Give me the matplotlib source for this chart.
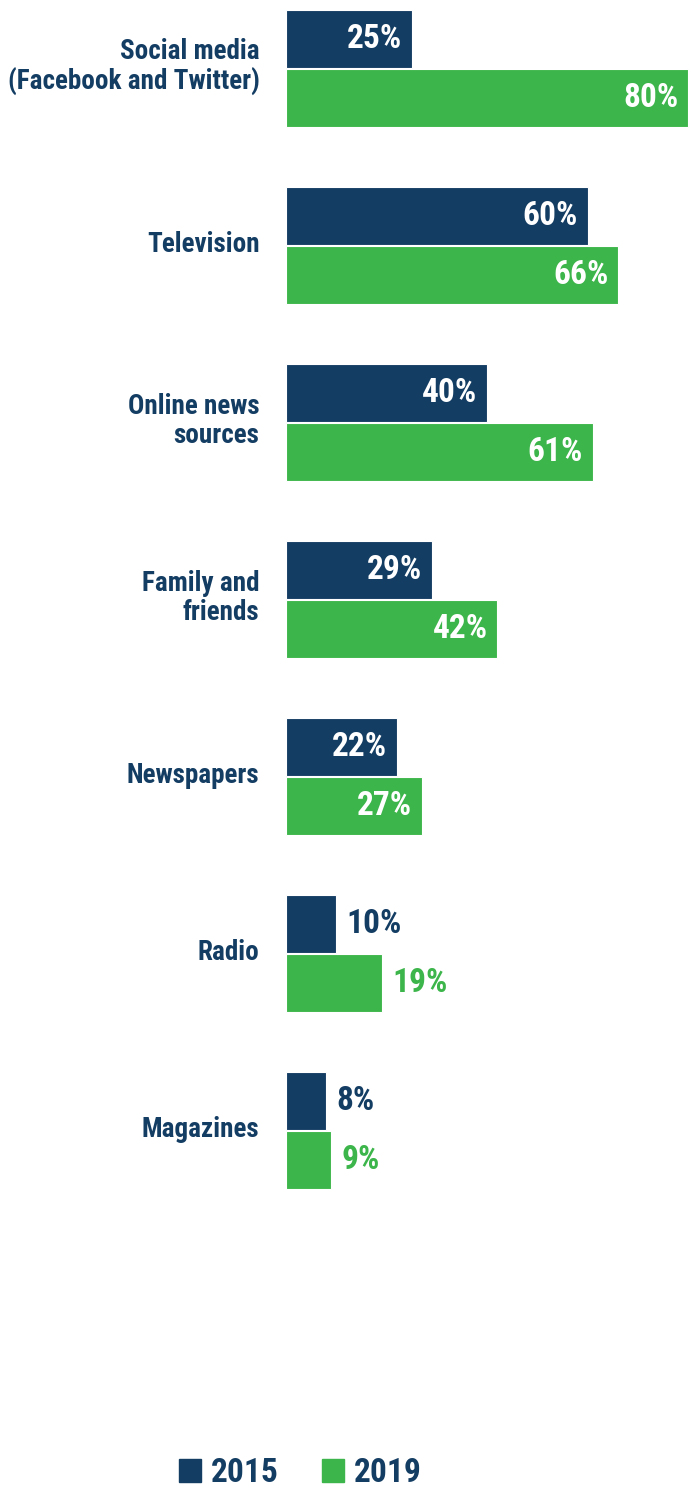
#!/usr/bin/env python3

import numpy as np
from matplotlib import pyplot as plt
from matplotlib.patches import Patch

categories = ['Social media\n(Facebook and Twitter)', 'Television',
              'Online news\nsources', 'Family and\nfriends', 'Newspapers',
              'Radio', 'Magazines']
vals_2015 = [25, 60, 40, 29, 22, 10, 8]
vals_2019 = [80, 66, 61, 42, 27, 19, 9]
series_names = ['2015', '2019']

NAVY = '#143d63'
GREEN = '#3cb54a'
FONT = ['Roboto Condensed', 'Pragati Narrow', 'DejaVu Sans']

W, H = 691, 1490
fig = plt.figure(figsize=(W / 100, H / 100), dpi=100)
ax = fig.add_axes([286 / W, 0, 1 - 286 / W, 1])

step = 177.0
y = np.arange(len(categories))
bh = 58 / step
off = 29.5 / step

for vals, col, d in [(vals_2015, NAVY, -off), (vals_2019, GREEN, off)]:
    bars = ax.barh(y + d, vals, height=bh, color=col, edgecolor='white',
                   linewidth=0.8)
    for b, v in zip(bars, vals):
        yc = b.get_y() + b.get_height() / 2
        if v >= 20:
            ax.annotate(f'{v}%', (v, yc), xytext=(-7, 0),
                        textcoords='offset points', ha='right', va='center',
                        color='white', fontsize=24, fontweight='bold',
                        family=FONT)
        else:
            ax.annotate(f'{v}%', (v, yc), xytext=(7.5, 0),
                        textcoords='offset points', ha='left', va='center',
                        color=col, fontsize=24, fontweight='bold',
                        family=FONT)

for yi, lab in zip(y, categories):
    ax.annotate(lab, (0, yi), xytext=(-19, 1), textcoords='offset points',
                ha='right', va='center', color=NAVY, fontsize=19.5,
                fontweight='bold', family=FONT, linespacing=1.12,
                annotation_clip=False)

ax.set_xlim(0, 405 / 5.03)
ax.set_ylim((H - 68.5) / step, -68.5 / step)
ax.axis('off')

handles = [Patch(color=NAVY), Patch(color=GREEN)]
fig.legend(handles, series_names, loc='center', bbox_to_anchor=(0.435, 17 / H),
           ncol=2, frameon=False, handlelength=0.66, handleheight=0.66,
           handletextpad=0.3, columnspacing=1.3, borderpad=0,
           prop={'family': FONT, 'size': 24, 'weight': 'bold'},
           labelcolor=NAVY)

fig.savefig('out.png', dpi=100)
